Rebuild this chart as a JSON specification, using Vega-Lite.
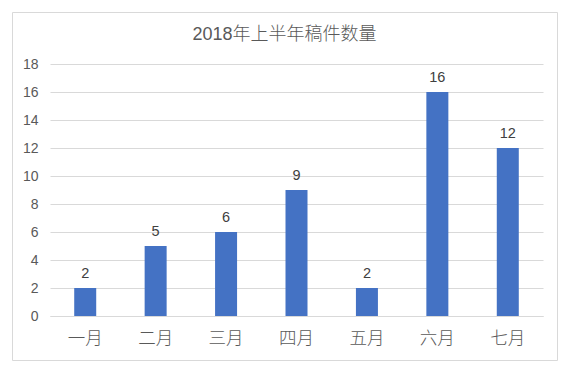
{
  "$schema": "https://vega.github.io/schema/vega-lite/v6.json",
  "width": 545,
  "height": 348,
  "autosize": {"type": "none"},
  "padding": {"left": 12, "top": 12, "right": 11, "bottom": 13},
  "background": "white",
  "title": {
    "text": "2018年上半年稿件数量",
    "font": "Liberation Sans, Noto Sans CJK SC",
    "fontSize": 18,
    "fontWeight": 300,
    "color": "#595959",
    "anchor": "middle",
    "baseline": "middle",
    "offset": -41
  },
  "config": {
    "view": {"stroke": "#d9d9d9", "strokeWidth": 1},
    "font": "Liberation Sans, Noto Sans CJK SC"
  },
  "data": {
    "values": [
      {"month": "一月", "count": 2},
      {"month": "二月", "count": 5},
      {"month": "三月", "count": 6},
      {"month": "四月", "count": 9},
      {"month": "五月", "count": 2},
      {"month": "六月", "count": 16},
      {"month": "七月", "count": 12}
    ]
  },
  "encoding": {
    "x": {
      "field": "month",
      "type": "nominal",
      "sort": null,
      "scale": {"range": [38, 531], "paddingInner": 0.6876, "paddingOuter": 0.3438},
      "axis": {
        "title": null,
        "labelAngle": 0,
        "labelFont": "Noto Sans CJK SC",
        "labelFontSize": 17.5,
        "labelFontWeight": 300,
        "labelColor": "#595959",
        "ticks": false,
        "domain": true,
        "domainColor": "#d9d9d9",
        "offset": -44,
        "labelPadding": 13
      }
    },
    "y": {
      "field": "count",
      "type": "quantitative",
      "scale": {"domain": [0, 18], "range": [304, 52], "nice": false},
      "axis": {
        "title": null,
        "values": [0, 2, 4, 6, 8, 10, 12, 14, 16, 18],
        "labelFont": "Liberation Sans",
        "labelFontSize": 14,
        "labelColor": "#595959",
        "ticks": false,
        "domain": false,
        "gridColor": "#d9d9d9",
        "offset": -26,
        "labelPadding": 0
      }
    }
  },
  "layer": [
    {"mark": {"type": "bar", "color": "#4472C4"}},
    {
      "mark": {"type": "text", "dy": -14, "fontSize": 14.5, "color": "#404040", "font": "Liberation Sans"},
      "encoding": {"text": {"field": "count", "type": "quantitative"}}
    }
  ]
}
